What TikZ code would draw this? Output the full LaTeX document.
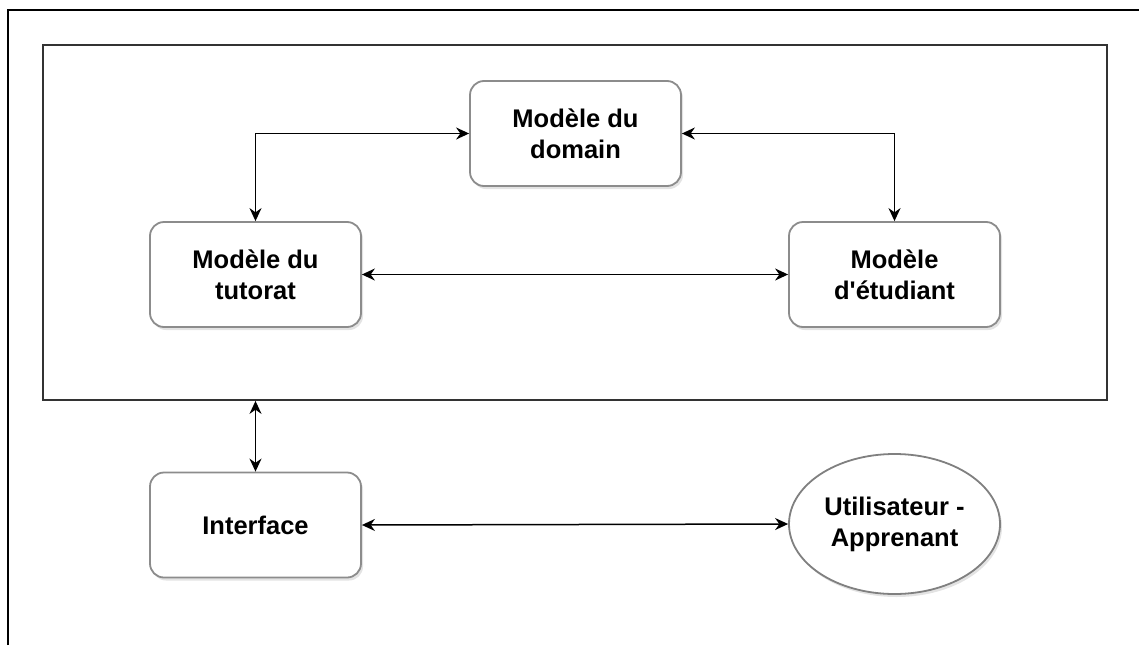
\documentclass[tikz,border=0pt]{standalone}
\usepackage{fontspec}
\setmainfont{Liberation Sans}[Ligatures=TeXOff]
\usetikzlibrary{shapes.geometric,shadows,arrows.meta}
\tikzset{
  boxstyle/.style={draw=black!45, line width=1.8pt, rounded corners=14pt, fill=white,
    minimum width=211pt, minimum height=105pt, align=center,
    font=\bfseries\fontsize{25.5}{31}\selectfont,
    drop shadow={opacity=0.22, shadow xshift=2pt, shadow yshift=-3pt}},
  ellstyle/.style={ellipse, draw=black!50, line width=1.8pt, fill=white,
    minimum width=211pt, minimum height=140pt, align=center, inner sep=0pt,
    font=\bfseries\fontsize{25.5}{31}\selectfont,
    drop shadow={opacity=0.22, shadow xshift=2pt, shadow yshift=-3pt}},
  arr/.style={line width=1.5pt, {Stealth[length=13pt,width=12pt]}-{Stealth[length=13pt,width=12pt]}}
}
\begin{document}
\begin{tikzpicture}[x=1pt,y=-1pt]
\useasboundingbox (0,0) rectangle (1139,645);
% outer frame (cropped)
\draw[line width=1.8pt] (8,645) -- (8,10) -- (1139,10);
% system rectangle
\node[draw=black!80, line width=1.8pt, minimum width=1064pt, minimum height=355pt, inner sep=0pt] (sys) at (575,222.5) {};
\node[boxstyle] (dom) at (575.5,133.5) {Modèle du\\domain};
\node[boxstyle] (tut) at (255.5,274.5) {Modèle du\\tutorat};
\node[boxstyle] (etu) at (894.5,274.5) {Modèle\\d'étudiant};
\node[boxstyle] (int) at (255.5,525) {Interface};
\node[ellstyle] (usr) at (894.5,524) {Utilisateur -\\Apprenant};
\draw[arr] (tut.north) |- (dom.west);
\draw[arr] (dom.east) -| (etu.north);
\draw[arr] (tut.east) -- (etu.west);
\draw[arr] (int.north |- sys.south) -- (int.north);
\draw[arr] (int.east) -- (usr.west);
\end{tikzpicture}
\end{document}
